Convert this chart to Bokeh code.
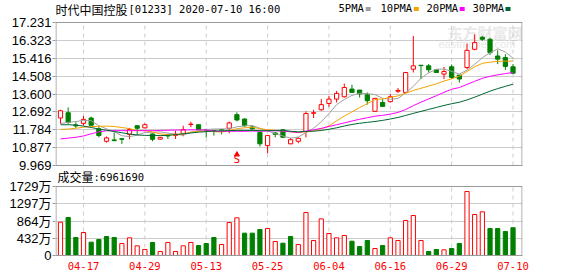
import numpy as np
from bokeh.plotting import figure
from bokeh.layouts import column
from bokeh.models import Range1d, FixedTicker, Label, ColumnDataSource, PrintfTickFormatter, Span
from bokeh.embed import file_html
from bokeh.resources import INLINE
from bokeh.core.properties import value

# ---------------- data ----------------
stock_name = "时代中国控股"
stock_info = "[01233] 2020-07-10 16:00"
volume_title = "成交量"
last_volume = 6961690

dates = ["04-14", "04-15", "04-16", "04-17", "04-20", "04-21", "04-22", "04-23", "04-24", "04-27",
         "04-28", "04-29", "05-04", "05-05", "05-06", "05-07", "05-08", "05-11", "05-12", "05-13",
         "05-14", "05-15", "05-18", "05-19", "05-20", "05-21", "05-22", "05-25", "05-26", "05-27",
         "05-28", "05-29", "06-01", "06-02", "06-03", "06-04", "06-05", "06-08", "06-09", "06-10",
         "06-11", "06-12", "06-15", "06-16", "06-17", "06-18", "06-19", "06-22", "06-23", "06-24",
         "06-26", "06-29", "06-30", "07-02", "07-03", "07-06", "07-07", "07-08", "07-09", "07-10"]

opens = [12.38, 12.65, 12.03, 12.11, 12.38, 11.83, 11.20, 11.27, 11.33, 11.55,
         11.99, 11.88, 11.57, 11.31, 11.50, 11.50, 11.57, 12.05, 12.04, 11.80,
         11.74, 11.80, 11.86, 12.55, 12.33, 11.93, 11.65, 10.98, 11.62, 11.78,
         11.07, 11.20, 11.69, 12.62, 12.80, 13.12, 13.34, 13.46, 13.85, 13.80,
         13.56, 12.72, 13.17, 13.21, 13.74, 13.68, 14.86, 15.06, 15.03, 14.83,
         14.61, 14.98, 14.56, 14.94, 15.87, 16.48, 16.38, 15.53, 15.45, 14.98]
highs = [12.80, 12.92, 12.16, 12.48, 12.45, 11.94, 11.44, 11.65, 11.37, 11.88,
         11.99, 12.11, 11.60, 11.42, 11.57, 11.74, 11.99, 12.19, 12.04, 11.83,
         11.76, 11.83, 12.20, 12.67, 12.36, 11.98, 11.70, 11.52, 11.67, 11.80,
         11.37, 11.40, 12.72, 12.80, 13.34, 13.51, 13.76, 14.13, 14.07, 13.80,
         13.68, 13.40, 13.34, 13.60, 13.90, 14.72, 16.55, 15.06, 15.12, 14.86,
         14.98, 15.10, 14.56, 16.16, 16.63, 16.55, 16.45, 15.82, 15.62, 15.12]
lows = [12.08, 12.08, 11.88, 11.99, 11.98, 11.40, 11.13, 11.20, 11.07, 11.30,
        11.52, 11.85, 11.20, 11.28, 11.32, 11.32, 11.45, 11.91, 11.76, 11.40,
        11.49, 11.55, 11.60, 12.21, 11.93, 11.78, 10.93, 10.59, 11.40, 11.38,
        11.05, 11.10, 11.40, 12.38, 12.75, 12.95, 13.17, 13.42, 13.65, 13.42,
        13.06, 12.70, 12.97, 13.17, 13.65, 13.65, 14.69, 14.36, 14.69, 14.69,
        14.36, 14.36, 14.18, 14.86, 15.82, 16.30, 15.58, 15.12, 14.82, 14.61]
closes = [12.75, 12.16, 11.98, 12.31, 12.01, 11.49, 11.37, 11.23, 11.30, 11.79,
          11.86, 12.04, 11.30, 11.40, 11.47, 11.56, 11.79, 12.07, 11.78, 11.76,
          11.72, 11.78, 12.13, 12.28, 11.99, 11.83, 11.07, 11.49, 11.55, 11.40,
          11.28, 11.35, 12.61, 12.65, 13.06, 13.34, 13.63, 13.93, 13.68, 13.60,
          13.26, 13.38, 12.97, 13.46, 13.78, 14.69, 15.03, 15.04, 14.83, 14.69,
          14.74, 14.44, 14.36, 15.82, 16.21, 16.38, 15.70, 15.37, 15.00, 14.66]
prev_close = 12.40  # close of the day before the first bar

# volume in 万 (10,000 shares)
volumes = [835, 952, 451, 576, 334, 401, 476, 451, 300, 443,
           242, 150, 326, 100, 326, 100, 242, 326, 250, 300,
           451, 276, 827, 944, 560, 560, 651, 676, 351, 309,
           476, 276, 1077, 376, 918, 551, 443, 501, 359, 225,
           376, 175, 250, 443, 376, 877, 1002, 376, 100, 150,
           142, 175, 300, 1603, 1027, 1094, 676, 676, 601, 696]

ma5_lead = [12.10, 12.16, 12.20, 12.26]
ma10_lead = [11.80, 11.82, 11.86, 11.91, 11.94, 11.96, 11.97, 11.95, 11.90]
ma20_lead = [11.32, 11.36, 11.40, 11.47, 11.58, 11.68, 11.73, 11.74, 11.74, 11.74,
             11.74, 11.74, 11.74, 11.75, 11.76, 11.77, 11.77, 11.78, 11.78]
ma30_lead = [12.04, 12.04, 12.02, 11.97, 11.90, 11.82, 11.76, 11.70, 11.63, 11.57,
             11.52, 11.50, 11.49, 11.49, 11.50, 11.54, 11.58, 11.62, 11.66, 11.69,
             11.72, 11.73, 11.74, 11.75, 11.75, 11.75, 11.74, 11.74, 11.74]

price_ticks = [9.969, 10.877, 11.784, 12.692, 13.600, 14.508, 15.416, 16.323, 17.231]
vol_ticks = [0, 432.25, 864.5, 1296.75, 1729.0]
vol_tick_labels = ["0", "432万", "864万", "1297万", "1729万"]
date_tick_labels = ["04-17", "04-29", "05-13", "05-25", "06-04", "06-16", "06-29", "07-10"]
event_dates = ["05-19"]
event_labels = ["S"]

ma_names = ["5PMA", "10PMA", "20PMA", "30PMA"]
ma_windows = [5, 10, 20, 30]
ma_leads = [ma5_lead, ma10_lead, ma20_lead, ma30_lead]

# ---------------- styling / layout ----------------
RED = "#ff0000"
GREEN = "#008000"
MA_COLORS = ["#a0a0a0", "#f5a300", "#ff00ff", "#006633"]
GRID = "#cccccc"
FRAME = "#999999"
CJK = "Noto Sans CJK SC"
MONO = "DejaVu Sans Mono"
SANS = "Liberation Sans, Noto Sans CJK SC"
W = 578
FRAME_L, FRAME_W = 55, 467
SLOT = 7.67          # px per trading day
PRICE_TOP_PX = 22    # pixel row of the top price gridline
PRICE_BOX_H = 143    # pixel height of the boxed price area
MAIN_BOTTOM_BORDER = 8
VOL_CANVAS_TOP = 165 # volume canvas overlaps the price canvas bottom slightly
VOL_BOX_TOP = 186
VOL_BOX_BOTTOM = 255

N = len(dates)
x = np.arange(N)
o = np.array(opens); h = np.array(highs); l = np.array(lows); c = np.array(closes)
v = np.array(volumes, dtype=float)

def moving_avg(n, lead):
    out = np.empty(N)
    out[:n - 1] = lead
    for i in range(n - 1, N):
        out[i] = c[i - n + 1:i + 1].mean()
    return out

up = c > o
cand_color = np.where(up, RED, GREEN)
cand_fill = np.where(up, "#ffffff", GREEN)
pc = np.concatenate([[prev_close], c[:-1]])
vup = c >= pc
vol_color = np.where(vup, RED, GREEN)
vol_fill = np.where(vup, "#ffffff", GREEN)

tick_idx = [dates.index(d) for d in date_tick_labels]

src = ColumnDataSource(dict(x=x, high=h, low=l, top=np.maximum(o, c), bottom=np.minimum(o, c),
                            color=cand_color, fill=cand_fill, vol=v, vcolor=vol_color, vfill=vol_fill))

x0 = -(60 - FRAME_L) / SLOT
x_range = Range1d(x0, x0 + FRAME_W / SLOT)
half_px = 0.5 / SLOT
edges = [x_range.start + half_px, x_range.end - half_px]

def px_x(px):
    return x_range.start + (px - FRAME_L) / SLOT

# ---------------- price panel (frame reaches the top of the page for the header) ----------------
p_lo, p_hi = price_ticks[0], price_ticks[-1]
k = (p_hi - p_lo) / PRICE_BOX_H
def px_y(py):
    return p_hi + (PRICE_TOP_PX - py) * k

MAIN_FRAME_H = PRICE_TOP_PX + PRICE_BOX_H
p = figure(frame_width=FRAME_W, frame_height=MAIN_FRAME_H, x_range=x_range,
           y_range=Range1d(p_lo, px_y(0)),
           output_backend="svg", toolbar_location=None, min_border_left=FRAME_L,
           min_border_right=W - FRAME_L - FRAME_W, min_border_top=0,
           min_border_bottom=MAIN_BOTTOM_BORDER)
p.outline_line_color = None
p.xaxis.ticker = FixedTicker(ticks=[])
p.xaxis.axis_line_color = FRAME
p.xaxis.major_tick_line_color = None
p.xaxis.minor_tick_line_color = None
p.yaxis.ticker = FixedTicker(ticks=price_ticks)
p.yaxis.formatter = PrintfTickFormatter(format="%.3f")
p.yaxis.axis_line_color = None
p.yaxis.major_tick_line_color = FRAME
p.yaxis.major_tick_out = 3
p.yaxis.major_tick_in = 0
p.yaxis.minor_tick_line_color = None
p.yaxis.major_label_standoff = 1
p.yaxis.major_label_text_font = SANS
p.yaxis.major_label_text_font_size = "13px"
p.yaxis.major_label_text_color = "#000000"
p.ygrid.ticker = FixedTicker(ticks=price_ticks)
p.ygrid.grid_line_color = GRID
p.xgrid.visible = False

# watermark
p.add_layout(Label(x=392, y=133, x_units="screen", y_units="screen", text="东方财富网",
                   text_font=CJK, text_font_size="15px", text_font_style="bold", text_color="#e8e8e8",
                   text_baseline="middle", level="underlay"))
p.add_layout(Label(x=383, y=122, x_units="screen", y_units="screen", text="eastmoney.com",
                   text_font="Liberation Sans", text_font_size="11px", text_color="#e8e8e8",
                   text_baseline="middle", level="underlay"))

# dashed date lines and box edges limited to the boxed area
p.segment(x0=tick_idx, y0=[p_lo] * len(tick_idx), x1=tick_idx, y1=[p_hi] * len(tick_idx),
          line_color=GRID, line_dash="4 4", line_width=1)
p.segment(x0=edges, y0=[p_lo, p_lo], x1=edges, y1=[p_hi, p_hi], line_color=FRAME, line_width=1)
p.add_layout(Span(location=p_hi, dimension="width", line_color=FRAME, line_width=1))

p.segment(x0="x", y0="high", x1="x", y1="low", color="color", line_width=1, source=src)
p.vbar(x="x", width=0.55, top="top", bottom="bottom", fill_color="fill", line_color="color",
       line_width=1, source=src)

for name, n, lead, col in zip(ma_names, ma_windows, ma_leads, MA_COLORS):
    p.line(x, moving_avg(n, lead), line_color=col, line_width=1)

# event marker
ev_x = [dates.index(d) for d in event_dates]
p.scatter(ev_x, [px_y(154)] * len(ev_x), marker="triangle", size=5, color=RED)
p.text(ev_x, [px_y(165)] * len(ev_x), text=event_labels, text_font=value(MONO),
       text_font_size="11px", text_color=RED, text_align="center", text_baseline="bottom")

# header: title and MA legend
p.text([px_x(55)], [px_y(8.5)], text=[stock_name], text_font=value(CJK), text_font_size="12px",
       text_color="#000000", text_baseline="middle")
p.text([px_x(128)], [px_y(8.5)], text=[stock_info], text_font=value(MONO), text_font_size="10.5px",
       text_color="#000000", text_baseline="middle")
leg_text_px = [338, 380, 426, 472]
leg_box_px = [367.7, 415.8, 461.7, 507.5]
p.text([px_x(t) for t in leg_text_px], [px_y(7.6)] * 4, text=ma_names, text_font=value(MONO),
       text_font_size="10.5px", text_color="#000000", text_baseline="middle")
p.rect([px_x(b) for b in leg_box_px], [px_y(8.4)] * 4, width=5, height=4,
       width_units="screen", height_units="screen", fill_color=MA_COLORS, line_color=None)

# ---------------- volume panel ----------------
VOL_FRAME_H = VOL_BOX_BOTTOM - VOL_CANVAS_TOP
VOL_BOX_H = VOL_BOX_BOTTOM - VOL_BOX_TOP
vol_top = vol_ticks[-1]
pv = figure(frame_width=FRAME_W, frame_height=VOL_FRAME_H, x_range=x_range,
            y_range=Range1d(0, vol_top * VOL_FRAME_H / VOL_BOX_H),
            output_backend="svg", toolbar_location=None, min_border_left=FRAME_L,
            min_border_right=W - FRAME_L - FRAME_W, min_border_top=0, min_border_bottom=21,
            margin=(VOL_CANVAS_TOP - (MAIN_FRAME_H + MAIN_BOTTOM_BORDER), 0, 0, 0))
pv.outline_line_color = None
pv.background_fill_color = None
pv.border_fill_color = None
pv.yaxis.ticker = FixedTicker(ticks=vol_ticks)
pv.yaxis.major_label_overrides = {t: s for t, s in zip(vol_ticks, vol_tick_labels)}
pv.yaxis.axis_line_color = None
pv.yaxis.major_tick_line_color = FRAME
pv.yaxis.major_tick_out = 3
pv.yaxis.major_tick_in = 0
pv.yaxis.minor_tick_line_color = None
pv.yaxis.major_label_standoff = 1
pv.yaxis.major_label_text_font = SANS
pv.yaxis.major_label_text_font_size = "13px"
pv.yaxis.major_label_text_color = "#000000"
pv.xaxis.ticker = FixedTicker(ticks=tick_idx)
pv.xaxis.major_label_overrides = {i: d for i, d in zip(tick_idx, date_tick_labels)}
pv.xaxis.axis_line_color = FRAME
pv.xaxis.major_tick_line_color = None
pv.xaxis.minor_tick_line_color = None
pv.xaxis.major_label_standoff = 0
pv.xaxis.major_label_text_font = MONO
pv.xaxis.major_label_text_font_size = "10.5px"
pv.xaxis.major_label_text_color = RED
pv.ygrid.ticker = FixedTicker(ticks=vol_ticks)
pv.ygrid.grid_line_color = GRID
pv.xgrid.visible = False

pv.segment(x0=tick_idx, y0=[0] * len(tick_idx), x1=tick_idx, y1=[vol_top] * len(tick_idx),
           line_color=GRID, line_dash="4 4", line_width=1)
pv.segment(x0=edges, y0=[0, 0], x1=edges, y1=[vol_top, vol_top], line_color=FRAME, line_width=1)
pv.add_layout(Span(location=vol_top, dimension="width", line_color=FRAME, line_width=1))

pv.vbar(x="x", width=0.55, top="vol", bottom=0, fill_color="vfill", line_color="vcolor",
        line_width=1, source=src)

pv.add_layout(Label(x=2, y=VOL_BOX_BOTTOM - 175.8, x_units="screen", y_units="screen", text=volume_title,
                    text_font=CJK, text_font_size="12px", text_color="#000000", text_baseline="middle"))
pv.add_layout(Label(x=38, y=VOL_BOX_BOTTOM - 176.3, x_units="screen", y_units="screen",
                    text=":" + str(last_volume), text_font=MONO, text_font_size="10.5px",
                    text_color="#000000", text_baseline="middle"))

layout = column(p, pv, spacing=0)
open("out.html", "w").write(file_html(layout, INLINE))
